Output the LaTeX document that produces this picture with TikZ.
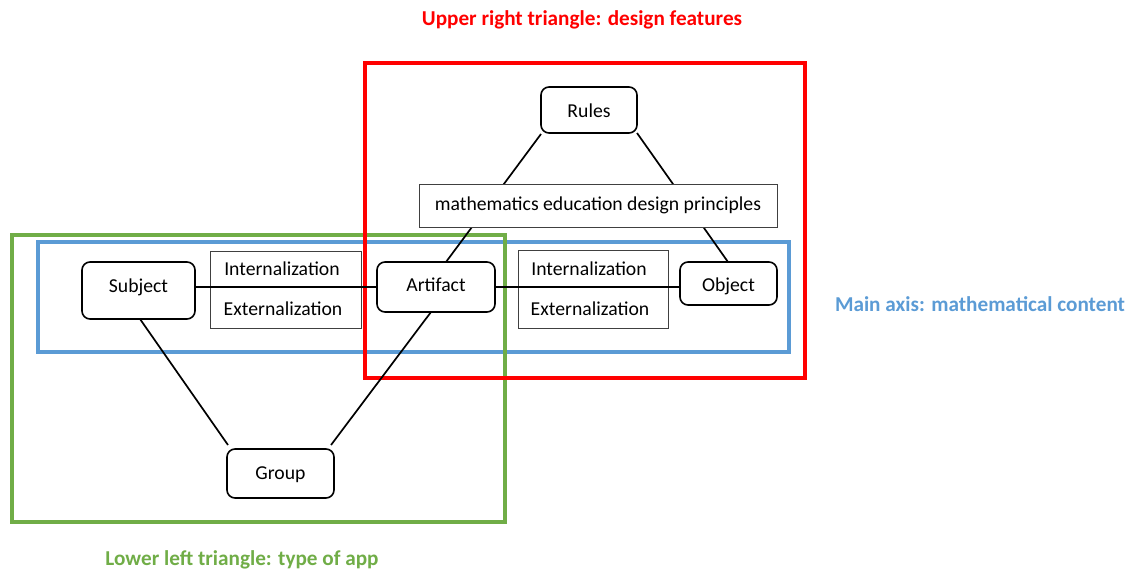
\documentclass[tikz,border=0pt]{standalone}
\usepackage{fontspec}
\setmainfont{Carlito}
\definecolor{fred}{HTML}{FF0000}
\definecolor{fblue}{HTML}{5B9BD5}
\definecolor{fgreen}{HTML}{70AD47}
\begin{document}
\begin{tikzpicture}[x=1pt,y=-1pt,
  every node/.style={font=\fontsize{19.7}{23}\selectfont, inner sep=0pt},
  rbox/.style={draw=black, line width=1.6pt, rounded corners=8pt, fill=white, minimum width=#1, text height=13pt, text depth=4pt},
  rbox/.default=100pt,
  pbox/.style={draw=black!75, line width=0.9pt, fill=white},
  conn/.style={line width=1.7pt, black},
  frame/.style={line width=4.5pt},
  flabel/.style={font=\fontsize{21.2}{25}\selectfont\bfseries}]
\useasboundingbox (0,0) rectangle (1129,571);
% frames
\draw[frame, fblue] (38,242) rectangle (789,352);
\draw[frame, fgreen] (12,235) rectangle (505,522);
\draw[frame, fred] (365,63) rectangle (805,378);
% boxes
\node[pbox, minimum width=151pt, minimum height=77pt] (ie1) at (285.5,289.5) {};
\node[pbox, minimum width=150pt, minimum height=78pt] (ie2) at (593,289) {};
% rounded nodes
\node[rbox=113pt, minimum height=57pt, text depth=10pt] (subj) at (138.5,290.5) {Subject};
\node[rbox=118pt, minimum height=50pt, text depth=5pt] (art) at (436,287) {Artifact};
\node[rbox=97pt, minimum height=43pt, text height=15pt, text depth=0pt] (obj) at (728.5,283.5) {Object};
\node[rbox=96pt, minimum height=46pt, text height=14pt, text depth=0pt] (rul) at (589,110) {Rules};
\node[rbox=107pt, minimum height=49pt, text depth=2pt] (grp) at (280.5,473.5) {Group};
% connector end points
\coordinate (s1) at (140,319);
\coordinate (g1) at (228,445);
\coordinate (a1) at (431,312);
\coordinate (g2) at (331,445);
\coordinate (a2) at (446,262);
\coordinate (r1) at (541,134);
\coordinate (o1) at (728,262);
\coordinate (r2) at (637,133);
\coordinate (sE) at (195,287);
\coordinate (aW) at (377,287);
\coordinate (aE) at (495,287);
\coordinate (oW) at (680,287);
\draw[conn] (sE) -- (aW);
\draw[conn] (aE) -- (oW);
\draw[conn] (s1) -- (g1);
\draw[conn] (a1) -- (g2);
\draw[conn] (a2) -- (r1);
\draw[conn] (o1) -- (r2);
% principles box drawn over the diagonal lines
\node[pbox, minimum width=358pt, minimum height=43pt] (mdp) at (598,205.5) {mathematics education design principles};
% texts in int/ext boxes
\node (i1) at (282,269) {Internalization};
\node (e1) at (283,309) {Externalization};
\node (i2) at (589,269) {Internalization};
\node (e2) at (590,309) {Externalization};
% labels
\node[flabel, text=fred] (lred) at (582,20) {Upper right triangle: design features};
\node[flabel, text=fblue] (lblue) at (980,304) {Main axis: mathematical content};
\node[flabel, text=fgreen] (lgreen) at (242,560) {Lower left triangle: type of app};
\end{tikzpicture}
\end{document}
